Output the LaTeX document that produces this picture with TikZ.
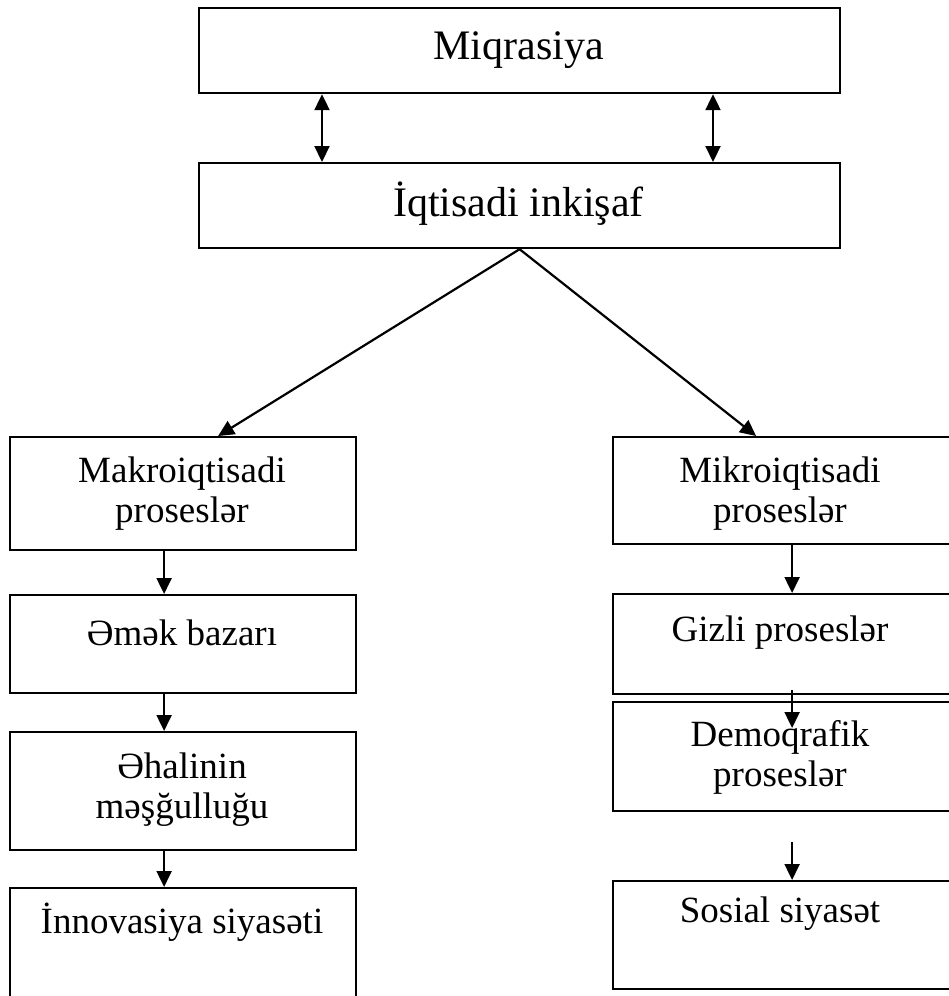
\documentclass[tikz,border=0pt]{standalone}
\usepackage{fontspec}
\setmainfont{Liberation Serif}
\usetikzlibrary{arrows.meta}
\begin{document}
\begin{tikzpicture}[x=1pt,y=-1pt,
  box/.style={draw, line width=2.2pt, inner sep=0pt, anchor=north west},
  bigtxt/.style={font=\fontsize{42pt}{48pt}\selectfont, inner sep=0pt},
  txt/.style={font=\fontsize{37pt}{40pt}\selectfont, inner sep=0pt, align=center},
  arr/.style={line width=2.2pt, -{Triangle[length=16pt,width=15pt]}},
  darr/.style={line width=2.2pt, {Triangle[length=16pt,width=15pt]}-{Triangle[length=16pt,width=15pt]}}
]
\useasboundingbox (0,0) rectangle (948,996);
% top boxes
\node[box, minimum width=641pt, minimum height=85pt] (miq) at (198,7) {};
\node[box, minimum width=641pt, minimum height=85pt] (iqt) at (198,162) {};
\node[bigtxt] (miqT) at (518.5,50) {Miqrasiya};
\node[bigtxt] (iqtT) at (518.5,204) {İqtisadi inkişaf};
% left column
\node[box, minimum width=346pt, minimum height=113pt] (makro) at (9,436) {};
\node[box, minimum width=346pt, minimum height=98pt] (emek) at (9,594) {};
\node[box, minimum width=346pt, minimum height=118pt] (ehali) at (9,731) {};
\node[box, minimum width=346pt, minimum height=113pt] (innov) at (9,887) {};
\node[txt] (makroT) at (182,494) {Makroiqtisadi\\proseslər};
\node[txt] (emekT) at (182,633) {Əmək bazarı};
\node[txt] (ehaliT) at (182,790) {Əhalinin\\məşğulluğu};
\node[txt] (innovT) at (182,922) {İnnovasiya siyasəti};
% right column
\node[box, minimum width=338pt, minimum height=107pt] (mikro) at (612,436) {};
\node[box, minimum width=338pt, minimum height=100pt] (gizli) at (612,593) {};
\node[box, minimum width=338pt, minimum height=109pt] (demo) at (612,701) {};
\node[box, minimum width=338pt, minimum height=108pt] (sosial) at (612,880) {};
\node[txt] (mikroT) at (780,494) {Mikroiqtisadi\\proseslər};
\node[txt] (gizliT) at (780,633) {Gizli proseslər};
\node[txt] (demoT) at (780,757) {Demoqrafik\\proseslər};
\node[txt] (sosialT) at (780,914) {Sosial siyasət};
% connectors
\coordinate (ta) at (322,0);
\coordinate (tb) at (713,0);
\draw[darr] (miq.south -| ta) -- (iqt.north -| ta);
\draw[darr] (miq.south -| tb) -- (iqt.north -| tb);
\draw[arr] (iqt.south) -- ([xshift=35pt]makro.north);
\draw[arr] (iqt.south) -- ([xshift=-26pt]mikro.north);
\draw[arr] ([xshift=-19pt]makro.south) -- ([xshift=-19pt]emek.north);
\draw[arr] ([xshift=-19pt]emek.south) -- ([xshift=-19pt]ehali.north);
\draw[arr] ([xshift=-19pt]ehali.south) -- ([xshift=-19pt]innov.north);
\draw[arr] ([xshift=10pt]mikro.south) -- ([xshift=10pt]gizli.north);
\draw[arr] ([xshift=10pt,yshift=5pt]gizli.south) -- ([xshift=10pt,yshift=-27pt]demo.north);
\coordinate (s0) at ([xshift=10pt,yshift=-30pt]demo.south);
\draw[arr] (s0) -- ([xshift=10pt]sosial.north);
\end{tikzpicture}
\end{document}
